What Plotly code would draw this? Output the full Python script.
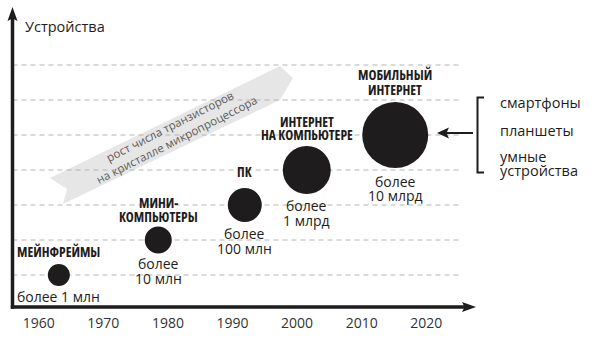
import math
import plotly.graph_objects as go

W, H = 591, 337

# ---------------- data ----------------
era_title = [["МЕЙНФРЕЙМЫ"], ["МИНИ-", "КОМПЬЮТЕРЫ"], ["ПК"],
             ["ИНТЕРНЕТ", "НА КОМПЬЮТЕРЕ"], ["МОБИЛЬНЫЙ", "ИНТЕРНЕТ"]]
era_count = [["более 1 млн"], ["более", "10 млн"], ["более", "100 млн"],
             ["более", "1 млрд"], ["более", "10 млрд"]]
era_year = [1963.1, 1978.5, 1991.9, 2001.5, 2015.2]
era_devices = [1e6, 1e7, 1e8, 1e9, 1e10]
tick_years = [1960, 1970, 1980, 1990, 2000, 2010, 2020]
grid_levels = [1e6, 1e7, 1e8, 1e9, 1e10, 1e11, 1e12]
mobile_kinds = [["смартфоны"], ["планшеты"], ["умные", "устройства"]]
y_title = "Устройства"
trend_text = "рост числа транзисторов<br>на кристалле микропроцессора"

# ---------------- style / layout ----------------
marker_diam = [22, 27, 34, 48, 66]
title_shift = [[23], [37, 23], [33], [48, 35], [60, 45]]
count_shift = [[-21], [-23, -38], [-28, -43], [-35, -50], [-46, -60]]
kind_y = [[102], [130], [156, 170]]

X0, X1 = 1953.99, 2045.52          # year range across the page width
YLO, YHI = 4.229, 13.857           # log10 range across the page height
AXIS_Y = 307
AXIS_X = 12.5

REG = "Open Sans, Noto Sans, sans-serif"
BOLD = "Open Sans, Noto Sans, sans-serif"
INK = "#1e1c1c"


def px(x):
    return x / W


def py(y):
    return 1 - y / H


def year_at(xpix):
    return X0 + (X1 - X0) * xpix / W


fig = go.Figure()

fig.add_trace(go.Scatter(
    x=era_year, y=era_devices, mode="markers",
    marker=dict(size=marker_diam, color=INK, opacity=1, line=dict(width=0)),
    hoverinfo="skip", showlegend=False, cliponaxis=False))

shapes = []
# dashed guide lines, one per decade of devices
for g in grid_levels:
    shapes.append(dict(type="line", xref="x", yref="y",
                       x0=year_at(AXIS_X), x1=year_at(462), y0=g, y1=g,
                       line=dict(color="#b4b4b4", width=1, dash="5px,4px"), layer="below"))

# big grey trend arrow
pts = [(50, 178), (280, 66), (293, 78), (280, 100), (63, 204), (67, 189)]
path = "M " + " L ".join(f"{px(a):.5f},{py(b):.5f}" for a, b in pts) + " Z"
shapes.append(dict(type="path", xref="paper", yref="paper", path=path,
                   fillcolor="#e6e6e6", line=dict(width=0), layer="below"))

# axis lines
shapes.append(dict(type="line", xref="paper", yref="paper",
                   x0=px(AXIS_X), x1=px(AXIS_X), y0=py(AXIS_Y + 1.7), y1=py(18),
                   line=dict(color=INK, width=3.5)))
shapes.append(dict(type="line", xref="paper", yref="paper",
                   x0=px(AXIS_X - 1.7), x1=px(465), y0=py(AXIS_Y), y1=py(AXIS_Y),
                   line=dict(color=INK, width=3.5)))


def tri(p):
    return "M " + " L ".join(f"{px(a):.5f},{py(b):.5f}" for a, b in p) + " Z"


shapes.append(dict(type="path", xref="paper", yref="paper",
                   path=tri([(AXIS_X, 7), (AXIS_X + 5, 21), (AXIS_X, 18.5), (AXIS_X - 5, 21)]),
                   fillcolor=INK, line=dict(width=0)))
shapes.append(dict(type="path", xref="paper", yref="paper",
                   path=tri([(476, AXIS_Y), (462, AXIS_Y - 5), (464.5, AXIS_Y), (462, AXIS_Y + 5)]),
                   fillcolor=INK, line=dict(width=0)))

# bracket and arrow on the right
shapes.append(dict(type="path", xref="paper", yref="paper",
                   path=f"M {px(484):.5f},{py(97.5):.5f} L {px(477.5):.5f},{py(97.5):.5f} "
                        f"L {px(477.5):.5f},{py(172.5):.5f} L {px(484):.5f},{py(172.5):.5f}",
                   line=dict(color=INK, width=2)))
shapes.append(dict(type="line", xref="paper", yref="paper",
                   x0=px(473), x1=px(446), y0=py(133), y1=py(133),
                   line=dict(color=INK, width=2)))
shapes.append(dict(type="path", xref="paper", yref="paper",
                   path=tri([(437, 133), (449, 127.5), (446.5, 133), (449, 138.5)]),
                   fillcolor=INK, line=dict(width=0)))

ann = []
for i in range(len(era_year)):
    ylog = math.log10(era_devices[i])   # annotations on a log axis take log10 values
    for line, s in zip(era_title[i], title_shift[i]):
        ann.append(dict(x=era_year[i], y=ylog, xref="x", yref="y", yshift=s,
                        text=f'<span style="font-stretch:75%">{line}</span>',
                        showarrow=False, xanchor="center", yanchor="middle",
                        font=dict(family=BOLD, size=13.5, color=INK, weight="bold")))
    for line, s in zip(era_count[i], count_shift[i]):
        ann.append(dict(x=era_year[i], y=ylog, xref="x", yref="y", yshift=s,
                        text=line, showarrow=False, xanchor="center", yanchor="middle",
                        font=dict(family=REG, size=14, color=INK)))

for kinds, ys in zip(mobile_kinds, kind_y):
    for line, yy in zip(kinds, ys):
        ann.append(dict(x=px(498), y=py(yy), xref="paper", yref="paper", text=line,
                        showarrow=False, xanchor="left", yanchor="middle",
                        font=dict(family=REG, size=14.5, color=INK)))

ann.append(dict(x=px(23), y=py(27), xref="paper", yref="paper", text=y_title,
                showarrow=False, xanchor="left", yanchor="middle",
                font=dict(family=REG, size=14.5, color=INK)))

ann.append(dict(x=px(173), y=py(133), xref="paper", yref="paper", text=trend_text,
                showarrow=False, xanchor="center", yanchor="middle", textangle=-27,
                font=dict(family=REG, size=11.5, color="#5a5a5a")))

fig.update_layout(
    width=W, height=H, margin=dict(l=0, r=0, t=0, b=0),
    paper_bgcolor="white", plot_bgcolor="white",
    shapes=shapes, annotations=ann, showlegend=False,
    xaxis=dict(range=[X0, X1], domain=[0, 1], anchor="free", position=(H - AXIS_Y) / H,
               tickvals=tick_years, ticktext=[str(t) for t in tick_years],
               ticks="", showline=False, showgrid=False, zeroline=False,
               ticklabelstandoff=6,
               tickfont=dict(family=REG, size=14, color="#333333"), fixedrange=True),
    yaxis=dict(type="log", range=[YLO, YHI], domain=[0, 1], visible=False, fixedrange=True),
)

fig.write_html("out.html", config={"displayModeBar": False})
